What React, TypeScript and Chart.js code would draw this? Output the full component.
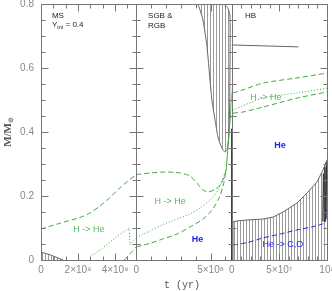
import React, { useEffect, useRef } from 'react';
import { Chart, registerables } from 'chart.js';

Chart.register(...registerables);

// ---------------- axes ----------------
const msRange = [0, 5.15e9];
const rgbRange = [0, 6.42e8];
const hbRange = [0, 1e8];
const massRange = [0, 0.8];

const msTickValues = [0, 2e9, 4e9];
const msTickLabels = ['0', '2×10⁹', '4×10⁹'];
const rgbTickValues = [0, 5e8];
const rgbTickLabels = ['0', '5×10⁸'];
const hbTickValues = [0, 5e7, 1e8];
const hbTickLabels = ['0', '5×10⁷', '10⁸'];
const massTickValues = [0, 0.2, 0.4, 0.6, 0.8];
const massTickLabels = ['0', '0.2', '0.4', '0.6', '0.8'];

// [minor step, major step] of the frame tick marks
const msTickSteps = [2e9 / 3, 2e9];
const rgbTickSteps = [1e8, 5e8];
const hbTickSteps = [1e7, 5e7];
const massTickSteps = [0.05, 0.2];

// ---------------- MS panel (t in yr, M in Msun) ----------------
const msCoreT = [0, 0.1e9, 0.5e9, 0.85e9, 1.2e9];
const msCoreM = [0.025, 0.023, 0.016, 0.008, 0];

const msShellOuterT = [0, 1.03e9, 2.11e9, 2.65e9, 3.19e9, 3.73e9, 4.16e9, 4.7e9, 5.15e9];
const msShellOuterM = [0.097, 0.115, 0.133, 0.147, 0.169, 0.195, 0.22, 0.247, 0.267];

const msShellPeakT = [2.74e9, 3.19e9, 3.73e9, 4.18e9, 4.54e9, 4.77e9, 4.8e9, 5.15e9];
const msShellPeakM = [0.014, 0.031, 0.056, 0.077, 0.091, 0.099, 0.047, 0.07];

const msShellInnerT = [4.5e9, 4.85e9, 5.15e9];
const msShellInnerM = [0, 0.022, 0.041];

// ---------------- SGB & RGB panel ----------------
const rgbShellOuterT = [0, 0.92e8, 1.93e8, 2.94e8, 3.61e8, 4.09e8, 4.49e8, 4.83e8, 5.24e8, 5.64e8, 5.91e8, 6.04e8];
const rgbShellOuterM = [0.267, 0.272, 0.275, 0.272, 0.2625, 0.24, 0.219, 0.2125, 0.219, 0.234, 0.259, 0.28];

const rgbShellPeakT = [0, 0.92e8, 1.8e8, 2.6e8, 3.61e8, 4.29e8, 4.96e8, 5.5e8, 5.84e8, 6.04e8];
const rgbShellPeakM = [0.07, 0.091, 0.111, 0.125, 0.144, 0.1625, 0.1875, 0.219, 0.256, 0.278];

const rgbShellInnerT = [0, 0.92e8, 1.8e8, 2.74e8, 3.61e8, 4.49e8, 5.1e8, 5.57e8, 5.84e8, 6.04e8];
const rgbShellInnerM = [0.041, 0.052, 0.066, 0.081, 0.103, 0.128, 0.156, 0.194, 0.231, 0.276];

const rgbTipShellT = [6.04e8, 6.15e8, 6.26e8, 6.35e8, 6.42e8];
const rgbTipShellM = [0.278, 0.34, 0.406, 0.46, 0.52];

const envelopeT = [4.15e8, 4.29e8, 4.49e8, 4.76e8, 4.96e8, 5.09e8, 5.3e8, 5.5e8, 5.7e8, 5.84e8, 5.97e8, 6.11e8, 6.17e8, 6.24e8, 6.29e8, 6.31e8, 6.32e8, 6.29e8, 6.17e8, 5.97e8, 5.7e8];
const envelopeM = [0.8, 0.781, 0.75, 0.666, 0.5625, 0.5, 0.4375, 0.384, 0.356, 0.344, 0.3375, 0.344, 0.359, 0.406, 0.5, 0.625, 0.734, 0.769, 0.787, 0.797, 0.8];

const flashHeT = [6.41e8, 6.41e8];
const flashHeM = [0.41, 0];

// ---------------- HB panel ----------------
const hbMassT = [0, 3.5e7, 7.0e7];
const hbMassM = [0.672, 0.669, 0.666];

const hbTipShellT = [0, 0.11e7];
const hbTipShellM = [0.52, 0.547];

const hbShellOuterT = [0.14e7, 1.4e7, 3.29e7, 6.85e7, 10e7];
const hbShellOuterM = [0.522, 0.534, 0.553, 0.569, 0.584];

const hbShellPeakT = [0.14e7, 3.29e7, 6.85e7, 10e7];
const hbShellPeakM = [0.469, 0.506, 0.522, 0.537];

const hbShellInnerT = [0.14e7, 1.19e7, 3.29e7, 6.85e7, 10e7];
const hbShellInnerM = [0.459, 0.4625, 0.478, 0.506, 0.525];

const hbCoreT = [0.14e7, 0.14e7, 0.56e7, 1.61e7, 3.29e7, 4.34e7, 5.39e7, 6.85e7, 7.9e7, 8.95e7, 9.58e7, 10e7];
const hbCoreM = [0, 0.119, 0.122, 0.125, 0.128, 0.134, 0.15, 0.178, 0.209, 0.244, 0.281, 0.3125];

const hbCOT = [0.14e7, 1.61e7, 3.29e7, 5.07e7, 6.85e7, 8.53e7, 9.58e7, 9.8e7, 10e7];
const hbCOM = [0.047, 0.054, 0.069, 0.081, 0.094, 0.104, 0.113, 0.117, 0.16];

const hbFlashT = [0.06e7, 0.06e7];
const hbFlashM = [0.17, 0];

const hbPulseT = [9.55e7, 9.62e7, 9.7e7, 9.78e7, 9.86e7, 9.93e7, 10e7];
const hbPulseM = [0.12, 0.27, 0.12, 0.29, 0.125, 0.305, 0.13];

// ---------------- styles ----------------
const AXIS_COLOR = '#777777';
const TICK_COLOR = '#888888';
const OUTLINE = '#666666';
const HATCH_COLOR = '#9a9a9a';
const GREEN = '#3aac3a';
const GREEN_TEXT = '#5cba5c';
const BLUE = '#2323f0';
const DARK = '#222222';

type Part = { t: string; sub?: boolean };
const notes: { axis: string; x: number; y: number; parts: Part[]; color: string; font: string; align: string }[] = [
  { axis: 'x1', x: 0.59e9, y: 0.764, parts: [{ t: 'MS' }], color: DARK, font: '8px "Liberation Sans"', align: 'left' },
  { axis: 'x1', x: 0.59e9, y: 0.734, parts: [{ t: 'Y' }, { t: 'ini', sub: true }, { t: ' = 0.4' }], color: DARK, font: '8px "Liberation Sans"', align: 'left' },
  { axis: 'x2', x: 0.79e8, y: 0.7625, parts: [{ t: 'SGB &' }], color: DARK, font: '8px "Liberation Sans"', align: 'left' },
  { axis: 'x2', x: 0.79e8, y: 0.731, parts: [{ t: 'RGB' }], color: DARK, font: '8px "Liberation Sans"', align: 'left' },
  { axis: 'x3', x: 1.4e7, y: 0.764, parts: [{ t: 'HB' }], color: DARK, font: '8px "Liberation Sans"', align: 'left' },
  { axis: 'x1', x: 2.59e9, y: 0.094, parts: [{ t: 'H -> He' }], color: GREEN_TEXT, font: '9px "Liberation Sans"', align: 'center' },
  { axis: 'x2', x: 2.27e8, y: 0.183, parts: [{ t: 'H -> He' }], color: GREEN_TEXT, font: '9px "Liberation Sans"', align: 'center' },
  { axis: 'x3', x: 3.6e7, y: 0.509, parts: [{ t: 'H -> He' }], color: GREEN_TEXT, font: '9px "Liberation Sans"', align: 'center' },
  { axis: 'x2', x: 4.12e8, y: 0.0625, parts: [{ t: 'He' }], color: BLUE, font: 'bold 9px "Liberation Sans"', align: 'center' },
  { axis: 'x3', x: 5.07e7, y: 0.358, parts: [{ t: 'He' }], color: BLUE, font: 'bold 9px "Liberation Sans"', align: 'center' },
  { axis: 'x3', x: 5.38e7, y: 0.047, parts: [{ t: 'He -> C,O' }], color: BLUE, font: '9px "Liberation Sans"', align: 'center' },
];

const toXY = (ts: number[], ms: number[]) => ts.map((t, i) => ({ x: t, y: ms[i] }));

function series(xAxisID: string, ts: number[], ms: number[], color: string, dash: number[] = [], width = 1, extra: any = {}) {
  return {
    xAxisID, yAxisID: 'y', data: toXY(ts, ms), borderColor: color, borderWidth: width,
    borderDash: dash, pointRadius: 0, fill: false, tension: 0.25, ...extra,
  };
}

function xScale(range: number[], tv: number[], tl: string[]) {
  return {
    type: 'linear', axis: 'x', position: 'bottom', stack: 'time', stackWeight: 1,
    min: range[0], max: range[1],
    grid: { display: false, drawTicks: false }, border: { display: false },
    afterBuildTicks: (s: any) => { s.ticks = tv.map((v) => ({ value: v })); },
    afterFit: (s: any) => { s.height = 31; s.paddingLeft = 0; s.paddingRight = 0; },
    ticks: {
      autoSkip: false, maxRotation: 0, minRotation: 0, padding: 4, color: TICK_COLOR,
      font: { family: '"Liberation Sans"', size: 10 },
      callback: (v: number) => {
        const i = tv.findIndex((u) => Math.abs(u - v) < 1e-6 * range[1]);
        return i >= 0 ? tl[i] : '';
      },
    },
  };
}

const decorPlugin = {
  id: 'decor',
  afterDatasetsDraw(chart: any) {
    const ctx = chart.ctx;
    const ys = chart.scales.y;
    const r = (v: number) => Math.round(v) + 0.5;
    const yTop = r(ys.getPixelForValue(massRange[1]));
    const yBot = r(ys.getPixelForValue(massRange[0]));
    const panels: [string, number[], number[]][] = [
      ['x1', msRange, msTickSteps], ['x2', rgbRange, rgbTickSteps], ['x3', hbRange, hbTickSteps],
    ];
    const xl = r(chart.scales.x1.left);
    const xr = r(chart.scales.x3.right);
    ctx.save();
    ctx.strokeStyle = AXIS_COLOR;
    ctx.lineWidth = 1;
    ctx.beginPath();
    ctx.moveTo(xl, yTop); ctx.lineTo(xr, yTop);
    ctx.moveTo(xl, yBot); ctx.lineTo(xr, yBot);
    ctx.moveTo(xr, yTop); ctx.lineTo(xr, yBot);
    const yVals: number[] = [];
    for (let k = 0; ; k++) {
      const v = massRange[0] + k * massTickSteps[0];
      if (v > massRange[1] + 1e-9) break;
      yVals.push(v);
    }
    const isMajor = (v: number, step: number) => Math.abs(v / step - Math.round(v / step)) < 1e-6;
    panels.forEach(([id, range, steps], i) => {
      const s = chart.scales[id];
      const px = r(s.left);
      ctx.moveTo(px, yTop); ctx.lineTo(px, yBot);
      for (let k = 0; ; k++) {
        const v = range[0] + k * steps[0];
        if (v > range[1] * (1 + 1e-9)) break;
        const len = isMajor(v, steps[1]) ? 7 : 4;
        const x = r(s.getPixelForValue(v));
        ctx.moveTo(x, yTop); ctx.lineTo(x, yTop + len);
        ctx.moveTo(x, yBot); ctx.lineTo(x, yBot - len);
      }
      yVals.forEach((v) => {
        const len = isMajor(v, massTickSteps[1]) ? 7 : 4;
        const y = r(ys.getPixelForValue(v));
        ctx.moveTo(px, y); ctx.lineTo(px + len, y);
        if (i > 0) { ctx.moveTo(px, y); ctx.lineTo(px - len, y); }
      });
    });
    yVals.forEach((v) => {
      const len = isMajor(v, massTickSteps[1]) ? 7 : 4;
      const y = r(ys.getPixelForValue(v));
      ctx.moveTo(xr, y); ctx.lineTo(xr - len, y);
    });
    ctx.stroke();
    ctx.restore();
  },
  afterDraw(chart: any) {
    const ctx = chart.ctx;
    const ys = chart.scales.y;
    ctx.save();
    ctx.textBaseline = 'middle';
    notes.forEach((n) => {
      const s = chart.scales[n.axis];
      const px = s.getPixelForValue(n.x);
      const py = ys.getPixelForValue(n.y);
      const subFont = n.font.replace(/\d+px/, (m) => Math.round(parseInt(m, 10) * 0.7) + 'px');
      let total = 0;
      n.parts.forEach((p) => { ctx.font = p.sub ? subFont : n.font; total += ctx.measureText(p.t).width; });
      let x = n.align === 'center' ? px - total / 2 : px;
      ctx.fillStyle = n.color;
      ctx.textAlign = 'left';
      n.parts.forEach((p) => {
        ctx.font = p.sub ? subFont : n.font;
        ctx.fillText(p.t, x, p.sub ? py + 2.5 : py);
        x += ctx.measureText(p.t).width;
      });
    });
    // x title
    const ca = chart.chartArea;
    ctx.fillStyle = '#555555';
    ctx.font = '10px "Liberation Mono"';
    ctx.textAlign = 'center';
    ctx.textBaseline = 'alphabetic';
    ctx.fillText('t (yr)', (chart.scales.x2.left + chart.scales.x2.right) / 2 - 2, chart.height - 3);
    // y title
    ctx.translate(8, (ca.top + ca.bottom) / 2);
    ctx.rotate(-Math.PI / 2);
    ctx.textBaseline = 'middle';
    ctx.textAlign = 'left';
    const main = 'bold 11px "Liberation Serif"';
    const sub = 'bold 7px "DejaVu Sans"';
    ctx.font = main;
    const w1 = ctx.measureText('M/M').width;
    ctx.font = sub;
    const w2 = ctx.measureText('⊙').width;
    const x0 = -(w1 + w2) / 2;
    ctx.font = main;
    ctx.fillText('M/M', x0, 0);
    ctx.font = sub;
    ctx.fillText('⊙', x0 + w1, 3);
    ctx.restore();
  },
};

export default function App() {
  const ref = useRef<HTMLCanvasElement>(null);
  useEffect(() => {
    const canvas = ref.current;
    if (!canvas) return;
    const pc = document.createElement('canvas');
    pc.width = 3; pc.height = 1;
    const pctx = pc.getContext('2d')!;
    pctx.fillStyle = HATCH_COLOR;
    pctx.fillRect(0, 0, 1, 1);
    const hatch = pctx.createPattern(pc, 'repeat');

    const datasets: any[] = [
      series('x3', hbFlashT, hbFlashM, DARK, [], 1.5, { tension: 0 }),
      series('x2', rgbTipShellT, rgbTipShellM, GREEN, [], 1, { tension: 0.2 }),
      series('x3', hbTipShellT, hbTipShellM, GREEN, [], 1, { tension: 0 }),
      series('x2', flashHeT, flashHeM, BLUE, [], 1, { tension: 0 }),
      series('x3', hbCOT, hbCOM, BLUE, [5, 3], 1, { tension: 0.15 }),
      series('x3', hbPulseT, hbPulseM, '#333333', [], 1, { tension: 0 }),
      series('x1', msShellOuterT, msShellOuterM, GREEN, [5, 3]),
      series('x1', msShellPeakT, msShellPeakM, GREEN, [1, 2], 1, { tension: 0 }),
      series('x1', msShellInnerT, msShellInnerM, GREEN, [5, 3]),
      series('x2', rgbShellOuterT, rgbShellOuterM, GREEN, [5, 3]),
      series('x2', rgbShellPeakT, rgbShellPeakM, GREEN, [1, 2]),
      series('x2', rgbShellInnerT, rgbShellInnerM, GREEN, [5, 3]),
      series('x3', hbShellOuterT, hbShellOuterM, GREEN, [5, 3]),
      series('x3', hbShellPeakT, hbShellPeakM, GREEN, [1, 2]),
      series('x3', hbShellInnerT, hbShellInnerM, GREEN, [5, 3]),
      series('x3', hbMassT, hbMassM, OUTLINE, [], 1, { tension: 0 }),
      series('x2', envelopeT, envelopeM, OUTLINE, [], 1, { tension: 0.2, fill: 'shape', backgroundColor: hatch }),
      series('x3', hbCoreT, hbCoreM, OUTLINE, [], 1, { tension: 0, fill: 'origin', backgroundColor: hatch }),
      series('x1', msCoreT, msCoreM, OUTLINE, [], 1, { tension: 0, fill: 'origin', backgroundColor: hatch }),
    ];

    const chart = new Chart(canvas, {
      type: 'line',
      data: { datasets },
      options: {
        animation: false,
        responsive: false,
        devicePixelRatio: 1,
        events: [],
        layout: { padding: { left: 0, right: 5, top: 4, bottom: 0 } },
        plugins: { legend: { display: false }, tooltip: { enabled: false } },
        scales: {
          x1: xScale(msRange, msTickValues, msTickLabels),
          x2: xScale(rgbRange, rgbTickValues, rgbTickLabels),
          x3: xScale(hbRange, hbTickValues, hbTickLabels),
          y: {
            type: 'linear', axis: 'y', position: 'left', min: massRange[0], max: massRange[1],
            grid: { display: false, drawTicks: false }, border: { display: false },
            afterBuildTicks: (s: any) => { s.ticks = massTickValues.map((v) => ({ value: v })); },
            afterFit: (s: any) => { s.width = 41; s.paddingTop = 0; s.paddingBottom = 0; },
            ticks: {
              padding: 7, color: TICK_COLOR, font: { family: '"Liberation Sans"', size: 10 },
              callback: (v: number) => {
                const i = massTickValues.findIndex((u) => Math.abs(u - v) < 1e-6);
                return i >= 0 ? massTickLabels[i] : '';
              },
            },
          },
        },
      } as any,
      plugins: [decorPlugin as any],
    });
    return () => chart.destroy();
  }, []);

  return (
    <div style={{ position: 'absolute', left: 0, top: 0, width: 332, height: 291, background: '#fff' }}>
      <canvas ref={ref} width={332} height={291} style={{ display: 'block', width: 332, height: 291 }} />
    </div>
  );
}
